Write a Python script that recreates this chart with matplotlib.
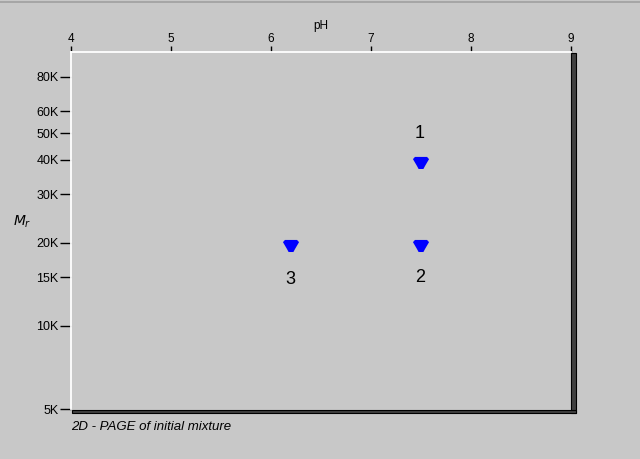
import matplotlib
matplotlib.use("Agg")
import matplotlib.pyplot as plt
from matplotlib.patches import Rectangle
from matplotlib.path import Path
from matplotlib.ticker import FixedLocator, NullLocator

plt.rcParams['font.family'] = ['Liberation Sans', 'DejaVu Sans']

# Spot data (pH, Mr)
spot_ids = ["1", "2", "3"]
spot_ph = [7.5, 7.5, 6.2]
spot_mr = [40000, 20000, 20000]
label_dy = [-26, 35, 37]   # label offset in pixels (screen, down = +)

x_ticks = [4, 5, 6, 7, 8, 9]
y_ticks = [5000, 10000, 15000, 20000, 30000, 40000, 50000, 60000, 80000]
y_labels = ["5K", "10K", "15K", "20K", "30K", "40K", "50K", "60K", "80K"]

bg = '#c8c8c8'
W, H = 640, 459

fig = plt.figure(figsize=(6.4, 4.59), dpi=100, facecolor=bg)
ax = fig.add_axes([71 / W, 50 / H, 500 / W, 357 / H], facecolor=bg)

ax.set_xlim(4, 9)
ax.set_yscale('log')
ax.set_ylim(5000, 98500)

ax.xaxis.set_ticks_position('top')
ax.xaxis.set_label_position('top')
ax.set_xticks(x_ticks)
ax.set_xticklabels([str(t) for t in x_ticks])
ax.yaxis.set_major_locator(FixedLocator(y_ticks))
ax.yaxis.set_minor_locator(NullLocator())
ax.set_yticklabels(y_labels)
ax.tick_params(axis='x', direction='out', length=4, width=1, pad=1, labelsize=8.5, colors='black')
ax.tick_params(axis='y', direction='out', length=8, width=1, pad=1, labelsize=9, colors='black')
ax.set_xlabel('pH', fontsize=8.5, labelpad=3)

for s in ['top', 'left']:
    ax.spines[s].set_color('white')
    ax.spines[s].set_linewidth(1.3)
for s in ['right', 'bottom']:
    ax.spines[s].set_visible(False)

# shadow edges on right and bottom
fig.patches.append(Rectangle((571 / W, (H - 413) / H), 5 / W, 360 / H,
                             transform=fig.transFigure, facecolor='#404040',
                             edgecolor='black', lw=0.8))
fig.patches.append(Rectangle((72 / W, (H - 413) / H), 504 / W, 3.5 / H,
                             transform=fig.transFigure, facecolor='#404040',
                             edgecolor='black', lw=0.8))

# spot marker: flat top, narrowing towards the bottom (sits slightly below its value)
verts = [(-0.75, 0.375), (0.75, 0.375), (1.0, 0.1), (0.5, -0.75), (0.3, -1.125),
         (-0.3, -1.125), (-0.5, -0.75), (-1.0, 0.1), (-0.75, 0.375)]
spot = Path(verts, closed=True)
ax.scatter(spot_ph, spot_mr, marker=spot, s=170, color='#0000ff', edgecolors='none', zorder=3)

for sid, x, y, dy in zip(spot_ids, spot_ph, spot_mr, label_dy):
    ax.annotate(sid, (x, y), xytext=(-0.8, -dy * 0.72), textcoords='offset points',
                ha='center', va='center', fontsize=13, color='black')

fig.text(22 / W, 1 - 222 / H, r'$M_r$', fontsize=10, ha='center', va='center')
fig.text(71 / W, 1 - 427 / H, '2D - PAGE of initial mixture', fontsize=9.5,
         style='italic', ha='left', va='center')

# thin darker line at the top of the window
fig.add_artist(plt.Line2D([0, 1], [1 - 1.5 / H, 1 - 1.5 / H], transform=fig.transFigure,
                          color='#a0a0a0', lw=1.2))

fig.savefig('out.png', dpi=100, facecolor=bg)
